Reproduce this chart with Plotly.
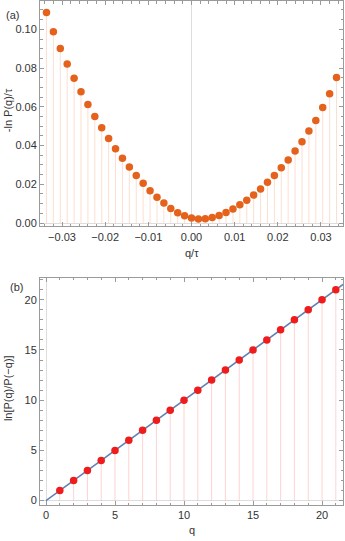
import plotly.graph_objects as go

# panel (a): -ln P(q)/tau against q/tau
q_a = [-21, -20, -19, -18, -17, -16, -15, -14, -13, -12, -11, -10, -9, -8, -7,
       -6, -5, -4, -3, -2, -1, 0, 1, 2, 3, 4, 5, 6, 7, 8, 9, 10, 11, 12, 13,
       14, 15, 16, 17, 18, 19, 20, 21]
tau = 625.0
neg_log_p = [0.1087, 0.0987, 0.0901, 0.0821, 0.0747, 0.0678, 0.0612, 0.0550,
             0.0492, 0.0436, 0.0383, 0.0335, 0.0289, 0.0245, 0.0205, 0.0167,
             0.0133, 0.0103, 0.0075, 0.0053, 0.0037, 0.0026, 0.0021, 0.0022,
             0.0029, 0.0039, 0.0054, 0.0073, 0.0094, 0.0118, 0.0145, 0.0176,
             0.0210, 0.0246, 0.0285, 0.0326, 0.0372, 0.0420, 0.0475, 0.0530,
             0.0596, 0.0667, 0.0752]

# panel (b): ln[P(q)/P(-q)] against q
q_b = [1, 2, 3, 4, 5, 6, 7, 8, 9, 10, 11, 12, 13, 14, 15, 16, 17, 18, 19, 20, 21]
log_ratio = [1, 2, 3, 4, 5, 6, 7, 8, 9, 10, 11, 12, 13, 14, 15, 16, 17, 18, 19, 20, 21]
fit_q = [0, 22]
fit_val = [0, 22]

orange = "#E5621C"
orange_stem = "rgba(240,140,90,0.28)"
red = "#EE1C1C"
red_stem = "rgba(250,120,120,0.33)"
blue = "#5E81B5"
frame = "#9a9a9a"
text_col = "#333333"
font = dict(family="Liberation Sans, Arial, sans-serif", size=11, color=text_col)

fig = go.Figure()

x_a = [q / tau for q in q_a]
fig.add_trace(go.Scatter(
    x=x_a, y=neg_log_p, mode="markers",
    marker=dict(color=orange, size=7.5),
    error_y=dict(type="data", symmetric=False, array=[0] * len(q_a),
                 arrayminus=neg_log_p, width=0, thickness=1, color=orange_stem),
    xaxis="x", yaxis="y", showlegend=False))

# stems under the fit line, then the line, then the points
fig.add_trace(go.Scatter(
    x=q_b, y=log_ratio, mode="markers",
    marker=dict(color="rgba(0,0,0,0)", size=1),
    error_y=dict(type="data", symmetric=False, array=[0] * len(q_b),
                 arrayminus=log_ratio, width=0, thickness=1, color=red_stem),
    xaxis="x2", yaxis="y2", showlegend=False, hoverinfo="skip"))
fig.add_trace(go.Scatter(
    x=fit_q, y=fit_val, mode="lines", line=dict(color=blue, width=1.5),
    xaxis="x2", yaxis="y2", showlegend=False))
fig.add_trace(go.Scatter(
    x=q_b, y=log_ratio, mode="markers", marker=dict(color=red, size=7.5),
    xaxis="x2", yaxis="y2", showlegend=False))

axis_common = dict(
    showgrid=False, showline=True, linecolor=frame, linewidth=1,
    mirror="allticks", ticks="inside", ticklen=4, tickcolor=frame,
    tickfont=font, zeroline=True, zerolinecolor="#dddddd", zerolinewidth=1,
)

fig.update_layout(
    width=345, height=541,
    margin=dict(l=40, r=2, t=0, b=0),
    paper_bgcolor="white", plot_bgcolor="white",
    font=font,
    xaxis=dict(axis_common, domain=[0, 1], anchor="y", range=[-0.0351, 0.0351],
               dtick=0.01, tickformat=".2f",
               minor=dict(dtick=0.002, ticks="inside", ticklen=2.5, tickcolor=frame)),
    yaxis=dict(axis_common, domain=[0.5804, 0.9995], anchor="x", range=[-0.0017, 0.1145],
               dtick=0.02, tickformat=".2f",
               minor=dict(dtick=0.005, ticks="inside", ticklen=2.5, tickcolor=frame)),
    xaxis2=dict(axis_common, domain=[0, 1], anchor="y2", range=[-0.435, 21.52],
                dtick=5,
                minor=dict(dtick=1, ticks="inside", ticklen=2.5, tickcolor=frame)),
    yaxis2=dict(axis_common, domain=[0.0610, 0.4843], anchor="x2", range=[-0.46, 22.17],
                dtick=5,
                minor=dict(dtick=1, ticks="inside", ticklen=2.5, tickcolor=frame)),
)

W = 303.0
def px(x):
    return (x - 40) / W

annos = [
    dict(text="(a)", x=px(12), y=1 - 14 / 541, xanchor="center", yanchor="middle"),
    dict(text="(b)", x=px(16), y=1 - 288 / 541, xanchor="center", yanchor="middle"),
    dict(text="q/τ", x=px(192), y=1 - 254 / 541, xanchor="center", yanchor="middle"),
    dict(text="q", x=px(192), y=1 - 533 / 541, xanchor="center", yanchor="middle"),
    dict(text="-ln P(q)/τ", x=px(8), y=1 - 110 / 541, xanchor="center",
         yanchor="middle", textangle=-90),
    dict(text="ln[P(q)/P(−q)]", x=px(8), y=1 - 390 / 541, xanchor="center",
         yanchor="middle", textangle=-90),
]
for a in annos:
    fig.add_annotation(xref="paper", yref="paper", showarrow=False, font=font, **a)

fig.write_html("out.html",
               config={"displayModeBar": False},
               post_script="document.body.style.margin='0';"
                           "document.body.style.overflow='hidden';")
